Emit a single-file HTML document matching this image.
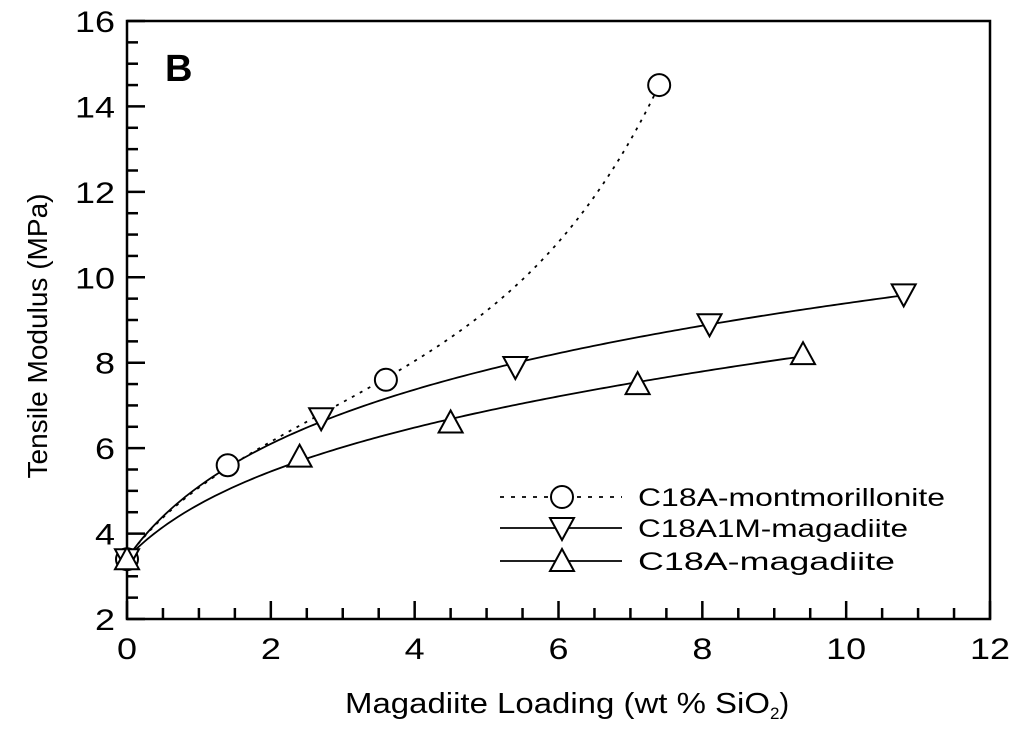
<!DOCTYPE html>
<html><head><meta charset="utf-8"><style>
html,body{margin:0;padding:0;background:#fff;}
svg{display:block;font-family:"Liberation Sans",sans-serif;}
</style></head><body>
<svg id="chart" width="1024" height="735" viewBox="0 0 1024 735">
<g id="axes"></g>
<g id="series"></g>
<g id="legend"></g>
</svg>
<script>
const xTicks=[0,2,4,6,8,10,12];
const yTicks=[2,4,6,8,10,12,14,16];
const seriesNames=["C18A-montmorillonite","C18A1M-magadiite","C18A-magadiite"];
const montX=[0,1.4,3.6,7.4];
const montY=[3.4,5.6,7.6,14.5];
const c18a1mX=[0,2.7,5.4,8.1,10.8];
const c18a1mY=[3.4,6.7,7.9,8.9,9.6];
const c18aX=[0,2.4,4.5,7.1,9.4];
const c18aY=[3.4,5.8,6.6,7.5,8.2];

const NS="http://www.w3.org/2000/svg";
const L=127,R=990,T=21,B=619;
const sx=v=>L+(v-0)/(12-0)*(R-L);
const sy=v=>B-(v-2)/(16-2)*(B-T);
function mk(tag,attrs,parent){const e=document.createElementNS(NS,tag);for(const k in attrs)e.setAttribute(k,attrs[k]);parent.appendChild(e);return e;}
const axes=document.getElementById('axes');
const frame=mk('rect',{x:L,y:T,width:R-L,height:B-T,fill:'none',stroke:'#000','stroke-width':2.5},axes);


for(let v=0;v<=12.001;v+=0.5){
  const major=Math.abs(v-Math.round(v/2)*2)<1e-6;
  const t=mk('line',{x1:sx(v),x2:sx(v),y1:B,y2:B-(major?18:11),stroke:'#000','stroke-width':2.5},axes);
  
  
}
for(let v=2;v<=16.001;v+=0.5){
  const major=Math.abs(v-Math.round(v/2)*2)<1e-6;
  const t=mk('line',{x1:L,x2:L+(major?18:11),y1:sy(v),y2:sy(v),stroke:'#000','stroke-width':2.5},axes);
  
  
}
xTicks.forEach(v=>{const s=String(v);const t=mk('text',{x:sx(v),y:B+40,'text-anchor':'middle','font-size':30,textLength:s.length*20,lengthAdjust:'spacingAndGlyphs'},axes);t.textContent=s;
  
  });
yTicks.forEach(v=>{const s=String(v);const t=mk('text',{x:L-12,y:sy(v)+11,'text-anchor':'end','font-size':30,textLength:s.length*20,lengthAdjust:'spacingAndGlyphs'},axes);t.textContent=s;
  
  });
const xt=mk('text',{x:345,y:713,'font-size':29},axes);
xt.innerHTML='<tspan textLength="425" lengthAdjust="spacingAndGlyphs">Magadiite Loading (wt % SiO</tspan><tspan font-size="17" dy="6">2</tspan><tspan dy="-6">)</tspan>';


const yt=mk('text',{x:0,y:0,'text-anchor':'middle','font-size':28,textLength:285,lengthAdjust:'spacingAndGlyphs',transform:'translate(47,336) rotate(-90)'},axes);
yt.textContent='Tensile Modulus (MPa)';


const pl=mk('text',{x:165,y:81,'font-size':38,'font-weight':'bold'},axes);pl.textContent='B';



function fit(xs,ys,basis){
  const n=basis.length;const A=[...Array(n)].map(()=>Array(n+1).fill(0));
  xs.forEach((x,k)=>{const f=basis.map(b=>b(x));for(let i=0;i<n;i++){for(let j=0;j<n;j++)A[i][j]+=f[i]*f[j];A[i][n]+=f[i]*ys[k];}});
  for(let i=0;i<n;i++){let p=i;for(let r=i+1;r<n;r++)if(Math.abs(A[r][i])>Math.abs(A[p][i]))p=r;[A[i],A[p]]=[A[p],A[i]];
    for(let r=0;r<n;r++){if(r===i)continue;const f=A[r][i]/A[i][i];for(let c=i;c<=n;c++)A[r][c]-=f*A[i][c];}}
  const c=A.map((r,i)=>r[n]/r[i]);
  return x=>basis.reduce((s,b,i)=>s+c[i]*b(x),0);
}
function curve(xs,ys,basis){
  const f=fit(xs,ys,basis);const x0=xs[0],x1=xs[xs.length-1];let d='';
  for(let i=0;i<=200;i++){const x=x0+(x1-x0)*i/200;d+=(i?'L':'M')+sx(x).toFixed(2)+','+sy(f(x)).toFixed(2);}
  return d;
}
const convex=[x=>1,x=>Math.log(1+x),x=>Math.exp(0.5*x)];
const concave=[x=>1,x=>Math.log(1+x),x=>x];
function marker(type,cx,cy,parent){
  let e;
  if(type==='circle') e=mk('circle',{cx,cy,r:11,fill:'#fff',stroke:'#000','stroke-width':2},parent);
  else if(type==='down') e=mk('polygon',{points:`${cx-12},${cy-10} ${cx+12},${cy-10} ${cx},${cy+12}`,fill:'#fff',stroke:'#000','stroke-width':2},parent);
  else e=mk('polygon',{points:`${cx-12},${cy+10} ${cx+12},${cy+10} ${cx},${cy-12}`,fill:'#fff',stroke:'#000','stroke-width':2},parent);
  return e;
}
const ser=document.getElementById('series');
const defs=[[montX,montY,'circle','3,6','montmorillonite',convex],[c18a1mX,c18a1mY,'down',null,'c18a1m-magadiite',concave],[c18aX,c18aY,'up',null,'c18a-magadiite',concave]];
defs.forEach(([xs,ys,m,dash,name,basis])=>{
  const a={d:curve(xs,ys,basis),fill:'none',stroke:'#000','stroke-width':1.8};
  if(dash)a['stroke-dasharray']=dash;
  const path=mk('path',a,ser);
  
  
});
defs.forEach(([xs,ys,m,dash,name])=>{
  xs.forEach((x,i)=>{const e=marker(m,sx(x),sy(ys[i]),ser);
    
    });
});
const leg=document.getElementById('legend');
const types=['circle','down','up'];const rows=[497,528,561];const lens=[307,270,257];
seriesNames.forEach((n,i)=>{
  const a={x1:500,x2:622,y1:rows[i],y2:rows[i],stroke:'#000','stroke-width':1.8};
  if(i===0)a['stroke-dasharray']='4,7';
  const ln=mk('line',a,leg);
  
  
  const mm=marker(types[i],562,rows[i],leg);
  
  
  const t=mk('text',{x:638,y:rows[i]+9,'font-size':25,textLength:lens[i],lengthAdjust:'spacingAndGlyphs'},leg);t.textContent=n;
  
  
});
</script>
</body></html>
